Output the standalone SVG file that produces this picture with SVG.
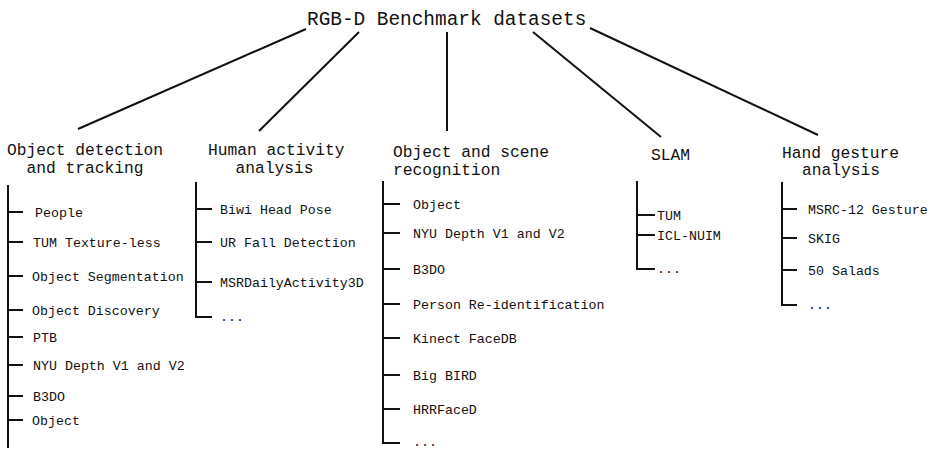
<svg xmlns="http://www.w3.org/2000/svg" width="935" height="449" viewBox="0 0 935 449">
<style>
text{font-family:"Liberation Mono","DejaVu Sans Mono",monospace;fill:#111}
.t{font-size:19.4px}
.c{font-size:16.25px}
.i{font-size:13.3px}
line,polyline{stroke:#111;stroke-width:2;fill:none}
</style>
<rect width="935" height="449" fill="#fff"/>
<g id="root"><text class="t" x="307" y="25">RGB-D Benchmark datasets</text></g>
<g id="connectors">
<line x1="306" y1="29" x2="78" y2="129"/>
<line x1="359" y1="32" x2="259" y2="131"/>
<line x1="447" y1="32" x2="447" y2="131"/>
<line x1="533" y1="32" x2="661" y2="137"/>
<line x1="590" y1="28" x2="818" y2="135"/>
</g>
<g id="cat-object-detection">
<text class="c" x="7" y="155">Object detection</text>
<text class="c" x="26.5" y="172.5">and tracking</text>
<line x1="8" y1="185" x2="8" y2="448"/>
<line x1="8" y1="212" x2="23" y2="212"/>
<line x1="8" y1="242" x2="23" y2="242"/>
<line x1="8" y1="276" x2="23" y2="276"/>
<line x1="8" y1="310" x2="23" y2="310"/>
<line x1="8" y1="337" x2="23" y2="337"/>
<line x1="8" y1="365" x2="23" y2="365"/>
<line x1="8" y1="396" x2="23" y2="396"/>
<line x1="8" y1="420" x2="23" y2="420"/>
<text class="i" x="35" y="216.5">People</text>
<text class="i" x="33" y="246.5">TUM Texture-less</text>
<text class="i" x="32" y="280.5">Object Segmentation</text>
<text class="i" x="32" y="314.5">Object Discovery</text>
<text class="i" x="33" y="341.5">PTB</text>
<text class="i" x="33" y="369.5">NYU Depth V1 and V2</text>
<text class="i" x="33" y="400.5">B3DO</text>
<text class="i" x="32" y="424.5">Object</text>
</g>
<g id="cat-human-activity">
<text class="c" x="208" y="155">Human activity</text>
<text class="c" x="235.5" y="172.5">analysis</text>
<polyline points="196,182 196,317 212,317"/>
<line x1="196" y1="209" x2="212" y2="209"/>
<line x1="196" y1="242" x2="212" y2="242"/>
<line x1="196" y1="282" x2="212" y2="282"/>
<text class="i" x="220" y="213.5">Biwi Head Pose</text>
<text class="i" x="220" y="246.5">UR Fall Detection</text>
<text class="i" x="220" y="286.5">MSRDailyActivity3D</text>
<text class="i" x="220" y="321">...</text>
</g>
<g id="cat-object-scene">
<text class="c" x="393" y="157">Object and scene</text>
<text class="c" x="393" y="174.5">recognition</text>
<polyline points="383,181 383,443 400,443"/>
<line x1="383" y1="204" x2="400" y2="204"/>
<line x1="383" y1="233" x2="400" y2="233"/>
<line x1="383" y1="269" x2="400" y2="269"/>
<line x1="383" y1="304" x2="400" y2="304"/>
<line x1="383" y1="338" x2="400" y2="338"/>
<line x1="383" y1="375" x2="400" y2="375"/>
<line x1="383" y1="409" x2="400" y2="409"/>
<text class="i" x="413" y="208.5">Object</text>
<text class="i" x="413" y="237.5">NYU Depth V1 and V2</text>
<text class="i" x="413" y="273.5">B3DO</text>
<text class="i" x="413" y="308.5">Person Re-identification</text>
<text class="i" x="413" y="342.5">Kinect FaceDB</text>
<text class="i" x="413" y="379.5">Big BIRD</text>
<text class="i" x="413" y="413.5">HRRFaceD</text>
<text class="i" x="413" y="445.5">...</text>
</g>
<g id="cat-slam">
<text class="c" x="651" y="160">SLAM</text>
<polyline points="637,181 637,269 655,269"/>
<line x1="637" y1="215" x2="655" y2="215"/>
<line x1="637" y1="235" x2="655" y2="235"/>
<text class="i" x="657" y="219.5">TUM</text>
<text class="i" x="657" y="239.5">ICL-NUIM</text>
<text class="i" x="657" y="273">...</text>
</g>
<g id="cat-hand-gesture">
<text class="c" x="782" y="157.5">Hand gesture</text>
<text class="c" x="802" y="175">analysis</text>
<polyline points="782,182 782,305 797,305"/>
<line x1="782" y1="209" x2="797" y2="209"/>
<line x1="782" y1="238" x2="797" y2="238"/>
<line x1="782" y1="270" x2="797" y2="270"/>
<text class="i" x="808" y="213.5">MSRC-12 Gesture</text>
<text class="i" x="808" y="242.5">SKIG</text>
<text class="i" x="808" y="274.5">50 Salads</text>
<text class="i" x="808" y="309">...</text>
</g>
</svg>
